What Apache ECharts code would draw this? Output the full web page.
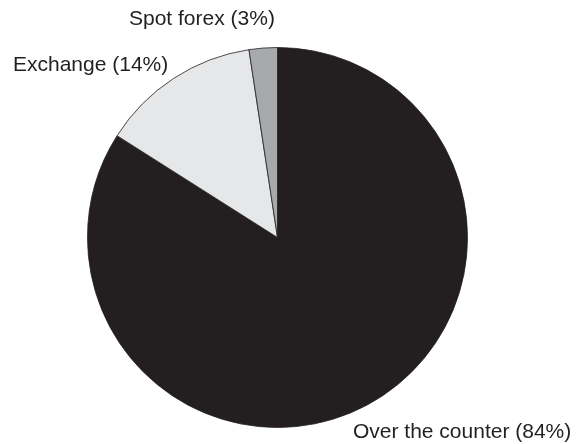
<!DOCTYPE html>
<html>
<head>
<meta charset="utf-8">
<script src="https://cdn.jsdelivr.net/npm/echarts@6/dist/echarts.min.js"></script>
<style>
html,body{margin:0;padding:0;background:#fff;}
#chart{width:582px;height:444px;}
</style>
</head>
<body>
<div id="chart"></div>
<script>
// Data
const categories = ['Over the counter', 'Exchange', 'Spot forex'];
const shares = [84.0, 13.6, 2.4];          // slice sizes
const shownPercent = [84, 14, 3];           // percentages printed in labels
const sliceColors = ['#231f20', '#e6e7e8', '#a7a9ac'];

// label anchor points (left x, vertical middle y)
const labelAnchors = [[353, 432], [13, 65], [129, 19]];

const chart = echarts.init(document.getElementById('chart'), null, {renderer: 'canvas'});
chart.setOption({
  animation: false,
  series: [{
    type: 'pie',
    center: [277.5, 237.5],
    radius: 190,
    startAngle: 90,
    clockwise: true,
    avoidLabelOverlap: false,
    itemStyle: { borderColor: '#231f20', borderWidth: 0.8 },
    emphasis: { disabled: true },
    label: {
      show: true,
      position: 'outside',
      color: '#231f20',
      fontFamily: 'Liberation Sans, Arial, sans-serif',
      fontSize: 21,
      formatter: p => categories[p.dataIndex] + ' (' + shownPercent[p.dataIndex] + '%)'
    },
    labelLine: { show: false },
    labelLayout: p => ({
      x: labelAnchors[p.dataIndex][0],
      y: labelAnchors[p.dataIndex][1],
      align: 'left',
      verticalAlign: 'middle'
    }),
    data: categories.map((c, i) => ({
      name: c, value: shares[i], itemStyle: { color: sliceColors[i] }
    }))
  }]
});
</script>
</body>
</html>
